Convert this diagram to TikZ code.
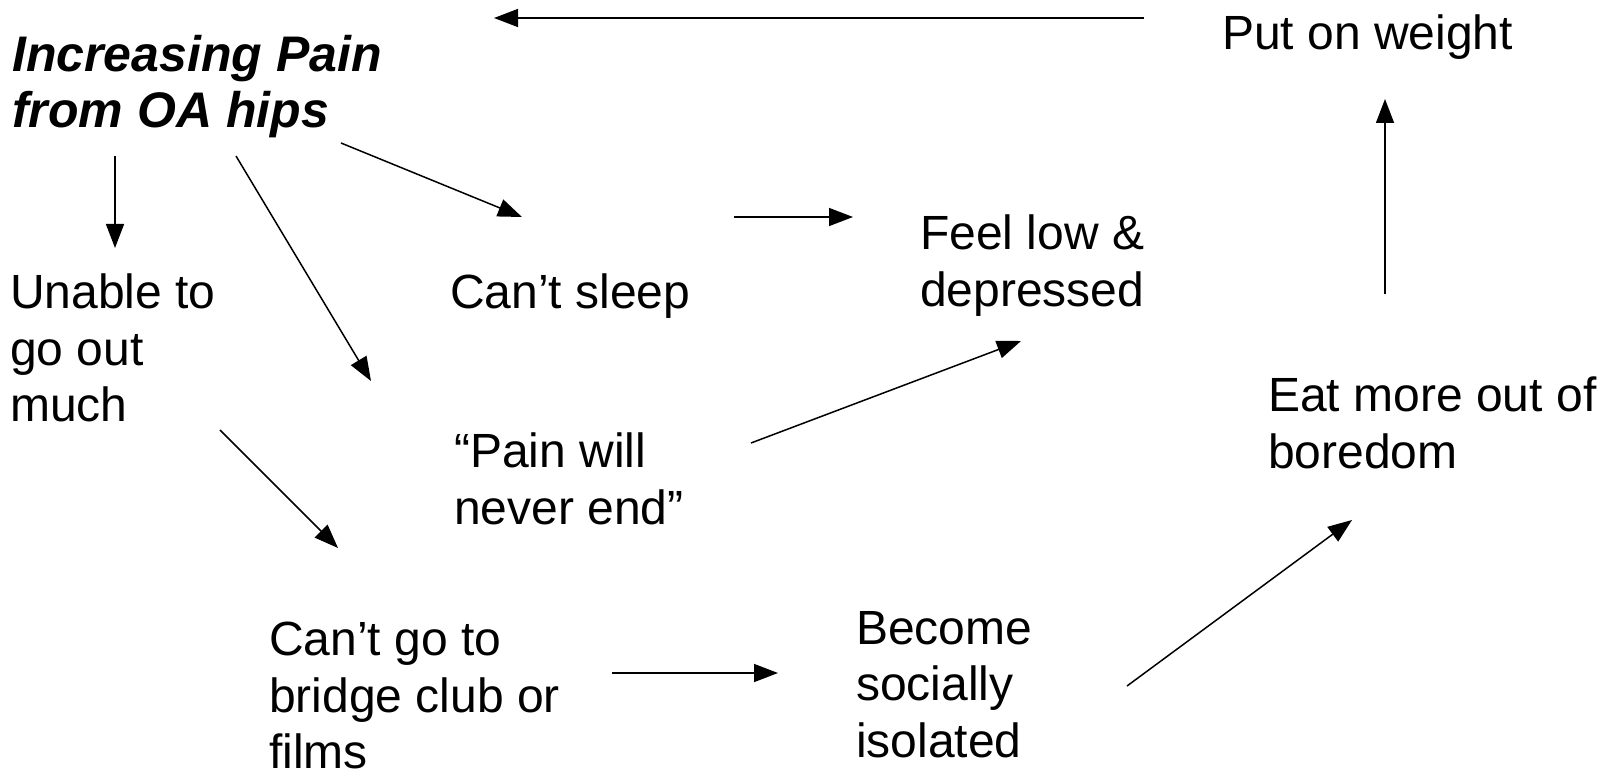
\documentclass[tikz,border=0pt]{standalone}
\usepackage{fontspec}
\setmainfont{Liberation Sans}
\usetikzlibrary{arrows.meta}
\tikzset{
  lbl/.style={anchor=north west, inner sep=0pt, align=left, font=\fontsize{48}{56.5}\selectfont},
  conn/.style={line width=1.5pt, -{Triangle[length=24pt,width=18pt]}}
}
\begin{document}
\begin{tikzpicture}[x=1pt,y=-1pt]
\useasboundingbox (0,0) rectangle (1606,770);
\node[lbl, font=\fontsize{50}{56.5}\selectfont\bfseries\itshape] (pain) at (12,35) {Increasing Pain\\from OA hips};
\node[lbl] (weight) at (1222,15) {Put on weight};
\node[lbl] (low) at (920,215) {Feel low \&\\depressed};
\node[lbl] (sleep) at (450,274) {Can’t sleep};
\node[lbl] (unable) at (10,274) {Unable to\\go out\\much};
\node[lbl] (never) at (454,433) {“Pain will\\never end”};
\node[lbl] (eat) at (1268,377) {Eat more out of\\boredom};
\node[lbl] (bridge) at (269,622) {Can’t go to\\bridge club or\\films};
\node[lbl] (isol) at (856,611) {Become\\socially\\isolated};

\coordinate (w0) at (1144,18);  \coordinate (w1) at (494,18);
\coordinate (p0) at (115,156);  \coordinate (p1) at (115,248);
\coordinate (q0) at (236,156);  \coordinate (q1) at (371,381);
\coordinate (r0) at (341,143);  \coordinate (r1) at (522,217);
\coordinate (s0) at (734,217);  \coordinate (s1) at (853,217);
\coordinate (n0) at (751,443);  \coordinate (n1) at (1021,341);
\coordinate (u0) at (220,430);  \coordinate (u1) at (338,548);
\coordinate (b0) at (612,673);  \coordinate (b1) at (778,673);
\coordinate (i0) at (1127,686); \coordinate (i1) at (1352,520);
\coordinate (e0) at (1385,294); \coordinate (e1) at (1385,99);

\draw[conn] (w0) -- (w1);
\draw[conn] (p0) -- (p1);
\draw[conn] (q0) -- (q1);
\draw[conn] (r0) -- (r1);
\draw[conn] (s0) -- (s1);
\draw[conn] (n0) -- (n1);
\draw[conn] (u0) -- (u1);
\draw[conn] (b0) -- (b1);
\draw[conn] (i0) -- (i1);
\draw[conn] (e0) -- (e1);
\end{tikzpicture}
\end{document}
